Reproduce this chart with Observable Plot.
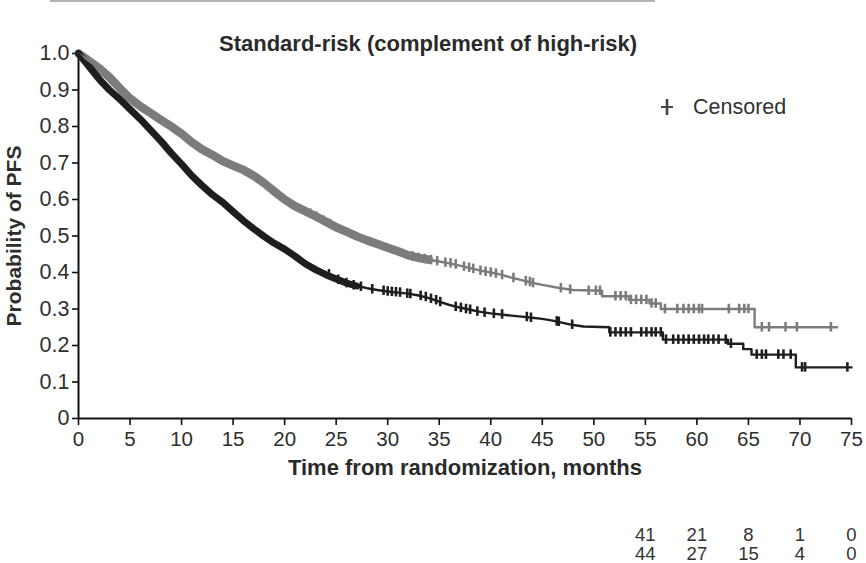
<!DOCTYPE html>
<html>
<head>
<meta charset="utf-8">
<script src="https://cdn.jsdelivr.net/npm/d3@7"></script>
<script src="https://cdn.jsdelivr.net/npm/@observablehq/plot@0.6"></script>
<style>
  html, body { margin: 0; padding: 0; background: #fff; }
  #wrap { position: relative; width: 866px; height: 563px; overflow: hidden; font-family: "Liberation Sans", Arial, sans-serif; }
  #topRule { position: absolute; left: 50px; top: 0; width: 605px; height: 2px; background: #b4b4b4; }
  #title { position: absolute; left: 219px; top: 31px; font-size: 22px; font-weight: bold; color: #2a2a2a; white-space: nowrap; line-height: 26px; }
  #legend { position: absolute; left: 660px; top: 95px; font-size: 21.5px; line-height: 25px; color: #333; white-space: nowrap; }
  #legend svg { vertical-align: -2px; }
</style>
</head>
<body>
<div id="wrap">
  <div id="chart"></div>
  <div id="topRule"></div>
  <div id="title"></div>
  <div id="legend"></div>
</div>
<script>
// ---- Data (time in months, probability of PFS) ----
const titleText = "Standard-risk (complement of high-risk)";
const xLabel = "Time from randomization, months";
const yLabel = "Probability of PFS";
const censoredLabel = "Censored";

const xTicks = [0, 5, 10, 15, 20, 25, 30, 35, 40, 45, 50, 55, 60, 65, 70, 75];
const yTicks = [0, 0.1, 0.2, 0.3, 0.4, 0.5, 0.6, 0.7, 0.8, 0.9, 1.0];

// upper (grey) curve
const curveGrey = [
  [0,1.0],[1,0.98],[2,0.96],[3,0.935],[4,0.905],[5,0.877],[6,0.855],[7,0.837],[8,0.818],[9,0.80],
  [10,0.78],[11,0.757],[12,0.737],[13,0.722],[14,0.705],[15,0.693],[16,0.681],[17,0.665],[18,0.645],[19,0.622],
  [20,0.60],[21,0.582],[22,0.568],[23,0.554],[24,0.539],[25,0.524],[26,0.512],[27,0.499],[28,0.488],[29,0.478],
  [30,0.468],[31,0.458],[32,0.447],[33,0.44],[34,0.435],[35,0.43],[36,0.425],[37,0.419],[38,0.412],[39,0.405],
  [40,0.40],[41,0.394],[42,0.386],[43,0.379],[44,0.372],[45,0.366],[46,0.361],[47,0.356],[48,0.352],[50.8,0.35],
  [50.8,0.335],[53.4,0.335],[53.4,0.325],[55.4,0.325],[55.4,0.315],[56.5,0.315],[56.5,0.30],[65.6,0.30],
  [65.6,0.25],[73.6,0.25]
];
// lower (black) curve
const curveBlack = [
  [0,1.0],[1,0.965],[2,0.93],[3,0.90],[4,0.875],[5,0.847],[6,0.82],[7,0.79],[8,0.76],[9,0.727],
  [10,0.697],[11,0.665],[12,0.638],[13,0.613],[14,0.592],[15,0.567],[16,0.542],[17,0.52],[18,0.499],[19,0.48],
  [20,0.464],[21,0.445],[22,0.424],[23,0.408],[24,0.394],[25,0.382],[26,0.371],[27,0.363],[28,0.357],[29,0.352],
  [30,0.348],[31,0.345],[32,0.342],[33,0.337],[34,0.33],[35,0.32],[36,0.311],[37,0.304],[38,0.298],[39,0.292],
  [40,0.288],[41,0.285],[42,0.282],[43,0.279],[44,0.276],[45,0.273],[46,0.268],[47,0.262],[48,0.256],[49,0.252],
  [51.5,0.25],[51.5,0.236],[56.7,0.236],[56.7,0.216],[63,0.216],[63,0.205],[64.5,0.205],[64.5,0.19],
  [65.3,0.19],[65.3,0.175],[69.6,0.175],[69.6,0.14],[75,0.14]
];

// censor marks [time, probability]
const censorGrey = [
  [22.5,0.561],[23.1,0.553],[23.8,0.542],[24.4,0.533],
  [32.4,0.444],[33.0,0.44],[33.6,0.437],[34.2,0.434],[34.8,0.431],
  [35.6,0.427],[36.1,0.425],[36.6,0.422],[37.4,0.416],[37.9,0.413],[38.3,0.41],
  [39.0,0.405],[39.5,0.402],[40.0,0.40],[40.5,0.397],[41.1,0.393],[42.2,0.385],
  [43.4,0.376],[43.8,0.374],[44.1,0.371],[46.8,0.357],[47.7,0.353],
  [49.5,0.35],[50.2,0.35],[50.6,0.35],
  [52.1,0.335],[52.6,0.335],[53.1,0.335],[53.6,0.325],[54.1,0.325],[54.6,0.325],[55.1,0.325],
  [55.6,0.315],[56.0,0.315],
  [56.9,0.30],[58.1,0.30],[58.7,0.30],[59.2,0.30],[59.7,0.30],[60.2,0.30],[60.5,0.30],
  [63.1,0.30],[64.1,0.30],[64.6,0.30],[65.0,0.30],
  [66.3,0.25],[67.0,0.25],[68.6,0.25],[69.7,0.25],[73.0,0.25]
];
const censorBlack = [
  [24.3,0.395],[25.2,0.38],[26.0,0.371],[26.7,0.365],[27.4,0.361],[28.5,0.354],
  [29.6,0.35],[30.0,0.348],[30.4,0.347],[30.8,0.346],[31.2,0.345],[31.9,0.342],[32.2,0.341],
  [33.2,0.336],[33.7,0.333],[34.2,0.328],[34.7,0.324],[35.1,0.319],
  [36.6,0.306],[37.1,0.303],[37.6,0.30],[38.0,0.298],
  [38.7,0.293],[39.4,0.29],[40.3,0.287],[41.1,0.285],[43.5,0.278],[43.9,0.276],
  [46.4,0.266],[46.6,0.265],[47.9,0.257],
  [51.6,0.236],[52.1,0.236],[52.6,0.236],[53.1,0.236],[53.6,0.236],[54.6,0.236],[55.1,0.236],
  [55.6,0.236],[56.0,0.236],[56.5,0.236],
  [57.0,0.216],[57.7,0.216],[58.2,0.216],[58.7,0.216],[59.2,0.216],[59.7,0.216],[60.2,0.216],
  [60.7,0.216],[61.1,0.216],[61.6,0.216],[62.1,0.216],[62.8,0.216],[63.3,0.205],
  [65.8,0.175],[66.3,0.175],[66.7,0.175],[67.9,0.175],[68.4,0.175],[69.1,0.175],
  [70.2,0.14],[70.5,0.14],[74.6,0.14]
];

// numbers at risk (visible part)
const riskTimes = [55, 60, 65, 70, 75];
const riskRow1 = [41, 21, 8, 1, 0];
const riskRow2 = [44, 27, 15, 4, 0];

// end of the densely-censored stretch of each curve
const denseEndGrey = 34;
const denseEndBlack = 27;

// ---- Drawing ----
const GREY = "#7c7c7c", BLACK = "#1e1e1e";
const tick = 0.013;
const riskData = riskTimes.flatMap((t, i) => [
  {t, v: riskRow1[i], row: 0},
  {t, v: riskRow2[i], row: 1}
]);

const chart = Plot.plot({
  width: 866,
  height: 563,
  marginLeft: 78,
  marginRight: 15,
  marginTop: 53,
  marginBottom: 145,
  style: {fontFamily: "'Liberation Sans', Arial, sans-serif", color: "#2e2e2e", background: "transparent"},
  x: {domain: [0, 75]},
  y: {domain: [0, 1]},
  marks: [
    Plot.axisX({ticks: xTicks, tickSize: 7, tickPadding: 6, fontSize: 20.5, label: null, strokeWidth: 1.6, stroke: "#111"}),
    Plot.axisY({ticks: yTicks, tickSize: 6, tickPadding: 3, fontSize: 21.5, strokeWidth: 1.6, stroke: "#111",
      tickFormat: d => d === 0 ? "0" : d.toFixed(1), label: null}),
    Plot.text([yLabel], {frameAnchor: "left", dx: -64, rotate: -90, textAnchor: "middle", fontSize: 21, fontWeight: "bold", fill: "#2e2e2e"}),
    Plot.ruleY([0], {stroke: "#111", strokeWidth: 2}),
    Plot.ruleX([0], {stroke: "#111", strokeWidth: 2}),
    // thick bands where censoring is dense
    Plot.line(curveGrey.filter(d => d[0] <= denseEndGrey), {x: d => d[0], y: d => d[1], stroke: GREY, strokeWidth: 8.5}),
    Plot.line(curveBlack.filter(d => d[0] <= denseEndBlack), {x: d => d[0], y: d => d[1], stroke: BLACK, strokeWidth: 7}),
    Plot.line(curveGrey, {x: d => d[0], y: d => d[1], stroke: GREY, strokeWidth: 2.4}),
    Plot.line(curveBlack, {x: d => d[0], y: d => d[1], stroke: BLACK, strokeWidth: 2.4}),
    Plot.ruleX(censorGrey, {x: d => d[0], y1: d => d[1] - tick, y2: d => d[1] + tick, stroke: GREY, strokeWidth: 2.6}),
    Plot.ruleX(censorBlack, {x: d => d[0], y1: d => d[1] - tick, y2: d => d[1] + tick, stroke: BLACK, strokeWidth: 2.6}),
    Plot.text([xLabel], {frameAnchor: "bottom", dy: 56, fontSize: 22, fontWeight: "bold", fill: "#2a2a2a"}),
    Plot.text(riskData, {x: "t", text: "v", frameAnchor: "bottom", fontSize: 18.5, fill: "#333",
      render(index, scales, values, dims, context, next) {
        const g = next(index, scales, values, dims, context);
        d3.select(g).selectAll("text").each(function(_, j) {
          const i = index[j];
          d3.select(this).attr("transform", null).attr("dy", null)
            .attr("x", scales.x(riskData[i].t))
            .attr("y", dims.height - dims.marginBottom + 122 + riskData[i].row * 19);
        });
        return g;
      }})
  ]
});
document.getElementById("chart").appendChild(chart);

document.getElementById("title").textContent = titleText;
document.getElementById("legend").innerHTML =
  `<svg width="14" height="18"><line x1="7" y1="1" x2="7" y2="17" stroke="#444" stroke-width="2.6"/><line x1="1" y1="9" x2="13" y2="9" stroke="#444" stroke-width="2"/></svg>` +
  `<span style="margin-left:19px">${censoredLabel}</span>`;
</script>
</body>
</html>
